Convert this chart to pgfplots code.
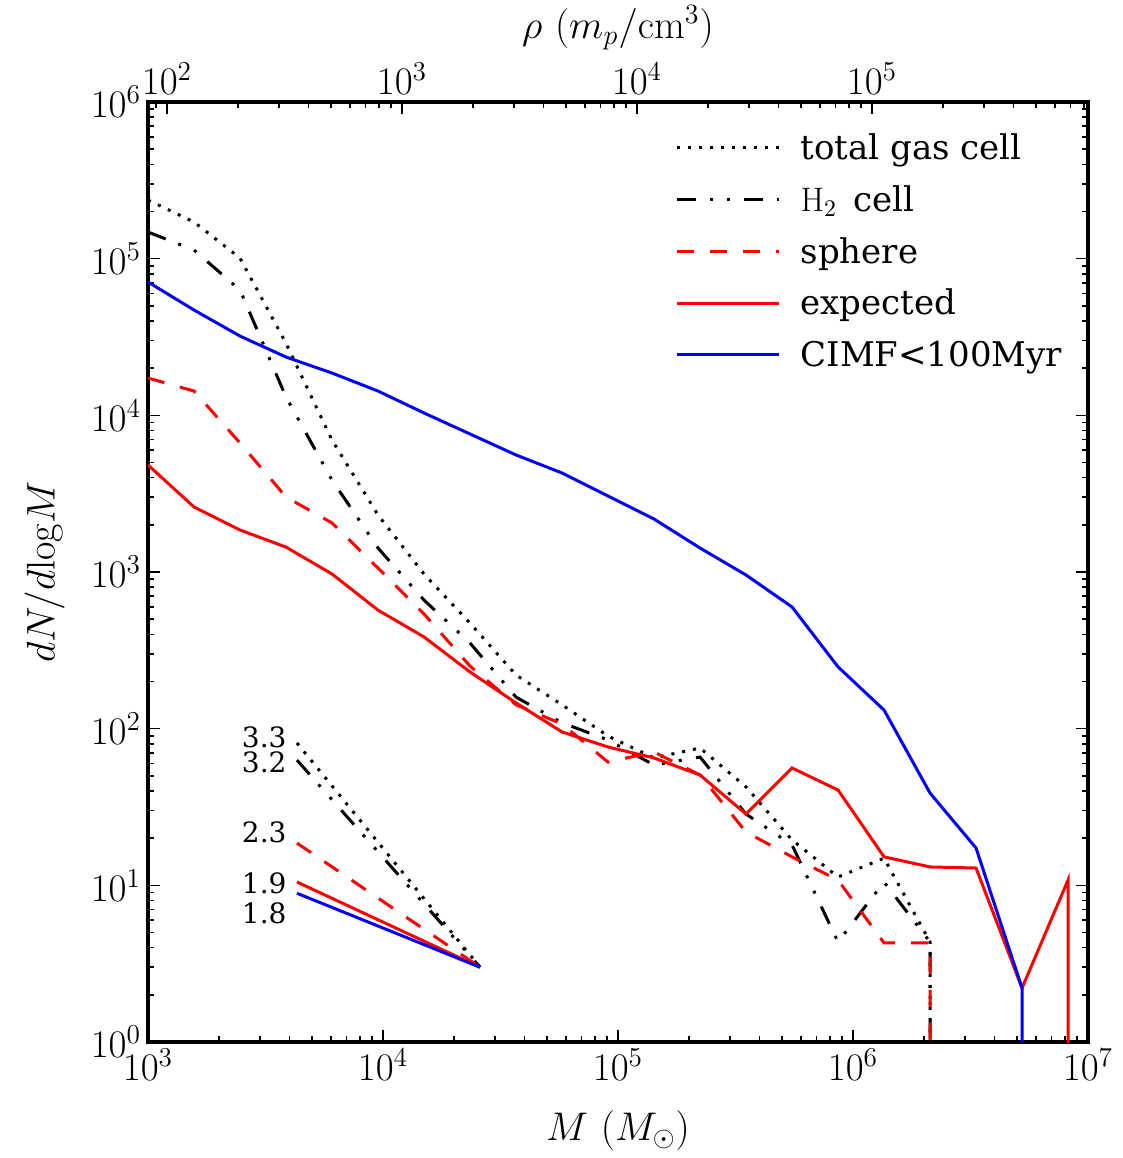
\RequirePackage{fix-cm}
\documentclass[border=0pt]{standalone}
\usepackage[no-math]{fontspec}
\setmainfont{DejaVu Serif}
\usepackage{pgfplots}
\pgfplotsset{compat=1.18}

\pgfplotsset{
  common/.style={
    at={(0pt,0pt)}, anchor=south west,
    scale only axis, width=470pt, height=470pt,
    axis line style={line width=1.6pt},
    tick style={black, line width=0.8pt},
    major tick length=6pt, minor tick length=3pt,
    tick label style={font=\fontsize{19.5}{22}\selectfont},
    label style={font=\fontsize{20}{24}\selectfont},
  },
  ln/.style={line width=1.5pt},
  dotst/.style={black, ln, dash pattern=on 1.5pt off 4pt},
  h2st/.style={black, ln, dash pattern=on 9.5pt off 6.75pt on 1.5pt off 7pt on 1.5pt off 7.25pt},
  sphst/.style={red, ln, dash pattern=on 8.5pt off 8pt},
  expst/.style={red, ln},
  cimfst/.style={blue, ln},
}

\begin{document}
\begin{tikzpicture}
\useasboundingbox (-74pt,-58pt) rectangle (487.5pt,521pt);

% top axis: density
\begin{axis}[
  common,
  xmode=log, xmin=83.0, xmax=8.30e5, ymin=0, ymax=1,
  axis x line*=top, hide y axis,
  xlabel={$\rho\ (m_p/\mathrm{cm}^3)$},
  xlabel style={at={(axis description cs:0.5,1.079)}, anchor=center},
]
\end{axis}

\begin{axis}[
  common,
  xmode=log, ymode=log,
  xmin=1e3, xmax=1e7, ymin=1, ymax=1e6,
  xtick pos=left, ytick pos=both,
  no markers,
  xlabel={$M\ (M_\odot)$}, ylabel={$dN/d\mathrm{log}M$},
  xlabel style={at={(axis description cs:0.5,-0.094)}, anchor=center},
  ylabel style={at={(axis description cs:-0.11,0.5)}, anchor=center},
  legend style={at={(axis description cs:0.5608,0.969)}, anchor=north west,
    draw=none, fill=none, font=\fontsize{17}{20}\selectfont,
    column sep=9pt, row sep=9.5pt, inner sep=0pt,
    nodes={inner sep=1pt, anchor=west}},
  legend cell align=left,
  legend image code/.code={\draw[#1] (0pt,0pt) -- (51pt,0pt);},
]
\addplot[dotst] coordinates {
 (1000,236600) (1570,171400) (2463,100900) (3866,28840) (6067,6950)
 (9522,2312) (14944,971) (23455,472) (36813,220) (57781,142)
 (90680,89.7) (142300,65.0) (223400,75.3) (350500,42.5) (550200,19.5)
 (863500,11.3) (1355200,14.9) (2127200,4.35) (2127200,0.01)
};
\addlegendentry{total gas cell}
\addplot[h2st] coordinates {
 (1000,147900) (1570,113500) (2463,63100) (3866,13090) (6067,3864)
 (9522,1422) (14944,662) (23455,352) (36813,159) (57781,109)
 (90680,84.7) (142300,58.6) (223400,65.9) (350500,28.5) (550200,18.1)
 (863500,4.35) (1355200,10.5) (2127200,4.35) (2127200,0.01)
};
\addlegendentry{$\mathrm{H}_2$\, cell}
\addplot[sphst] coordinates {
 (1000,17300) (1570,14290) (2463,6653) (3866,3013) (6067,2056)
 (9522,1059) (14944,540) (23455,251) (36813,142) (57781,107)
 (90680,61.2) (142300,71.0) (223400,50.6) (350500,21.9) (550200,15.2)
 (863500,10.8) (1355200,4.29) (2127200,4.29) (2127200,0.01)
};
\addlegendentry{sphere}
\addplot[expst] coordinates {
 (1000,4819) (1570,2600) (2463,1854) (3866,1442) (6067,971)
 (9522,571) (14944,385) (23455,230) (36813,146) (57781,95.3)
 (90680,76.4) (142300,65.0) (223400,50.6) (350500,28.5) (550200,56.1)
 (863500,40.6) (1355200,15.2) (2127200,13.1) (3338500,12.9) (5238500,2.21)
 (8221600,10.8) (8221600,0.01)
};
\addlegendentry{expected}
\addplot[cimfst] coordinates {
 (1000,70970) (1570,46990) (2463,32060) (3866,23550) (6067,18620)
 (9522,14290) (14944,10350) (23455,7603) (36813,5585) (57781,4285)
 (90680,3055) (142300,2178) (223400,1422) (350500,957) (550200,598)
 (863500,248) (1355200,131.5) (2127200,38.8) (3338500,17.3) (5238500,2.21)
 (5238500,0.01)
};
\addlegendentry{CIMF<100Myr}

% slope guides
\addplot[dotst, forget plot] coordinates {(4305,81) (25880,3.0)};
\addplot[h2st, forget plot] coordinates {(4305,63) (25880,3.0)};
\addplot[sphst, forget plot] coordinates {(4305,18.6) (25880,3.0)};
\addplot[expst, forget plot] coordinates {(4305,10.5) (25880,3.0)};
\addplot[cimfst, forget plot] coordinates {(4305,8.9) (25880,3.0)};

\begin{scope}[every node/.style={anchor=east, inner sep=0pt, font=\fontsize{14}{16}\selectfont}]
\node at (axis cs:3900,88.5) {3.3};
\node at (axis cs:3900,61.3) {3.2};
\node at (axis cs:3900,21.9) {2.3};
\node at (axis cs:3900,10.3) {1.9};
\node at (axis cs:3900,6.66) {1.8};
\end{scope}
\end{axis}
\end{tikzpicture}
\end{document}
